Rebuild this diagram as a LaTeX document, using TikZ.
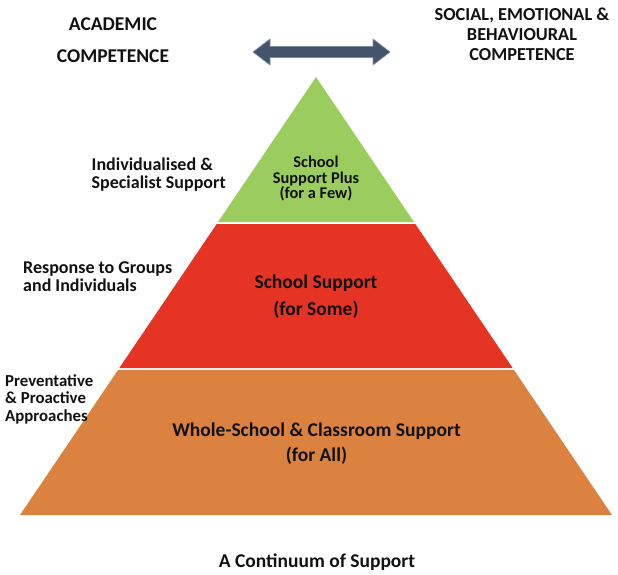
\documentclass[tikz,border=0pt]{standalone}
\usepackage{fontspec}
\setmainfont{Carlito}
\definecolor{tgreen}{HTML}{9BCD5E}
\definecolor{tred}{HTML}{E53324}
\definecolor{torange}{HTML}{DB8240}
\definecolor{tarrow}{HTML}{44546A}
\definecolor{tarrowedge}{HTML}{7D8CA3}
\definecolor{ttext}{HTML}{111111}
\begin{document}
\begin{tikzpicture}[x=1pt,y=-1pt,
  lbl/.style={inner sep=0pt, text=ttext, font=\bfseries\fontsize{#1}{#1}\selectfont},
  lbl/.default=18,
  tier/.style={fill=#1, draw=none}]
\useasboundingbox (0,0) rectangle (618,574);
% pyramid tiers
\fill[tier=tgreen] (316,77) -- (414,222) -- (218,222) -- cycle;
\fill[tier=tred] (216.7,224) -- (415.3,224) -- (512.7,368) -- (119.3,368) -- cycle;
\fill[tier=torange] (118,370) -- (514,370) -- (612,515) -- (20,515) -- cycle;
% double arrow
\filldraw[fill=tarrow, draw=tarrowedge, line width=0.6pt]
  (253,52) -- (270,39) -- (270,46.5) -- (373,46.5) -- (373,39) -- (390,52)
  -- (373,65) -- (373,57.5) -- (270,57.5) -- (270,65) -- cycle;
% top labels
\node[lbl=19.5, anchor=base] (ac1) at (113,30.5) {ACADEMIC};
\node[lbl=19.5, anchor=base] (ac2) at (113,62.5) {COMPETENCE};
\node[lbl=18.3, anchor=base] (se1) at (522,20.5) {SOCIAL, EMOTIONAL \&};
\node[lbl=18.3, anchor=base] (se2) at (522,40.5) {BEHAVIOURAL};
\node[lbl=18.3, anchor=base] (se3) at (522,60.5) {COMPETENCE};
% side labels
\node[lbl=18, anchor=base west] (is1) at (91.5,170.5) {Individualised \&};
\node[lbl=18, anchor=base west] (is2) at (91.5,188.5) {Specialist Support};
\node[lbl=18, anchor=base west] (rg1) at (23,273.5) {Response to Groups};
\node[lbl=18, anchor=base west] (rg2) at (23,291.5) {and Individuals};
\node[lbl=16.8, anchor=base west] (pp1) at (5,386) {Preventative};
\node[lbl=16.8, anchor=base west] (pp2) at (5,403.5) {\& Proactive};
\node[lbl=16.8, anchor=base west] (pp3) at (5,421) {Approaches};
% tier labels
\node[lbl=16.4, anchor=base] (sp1) at (316,167) {School};
\node[lbl=16.4, anchor=base] (sp2) at (316,183) {Support Plus};
\node[lbl=16.4, anchor=base] (sp3) at (316,198) {(for a Few)};
\node[lbl=19.5, anchor=base] (ss1) at (316,288.5) {School Support};
\node[lbl=19.5, anchor=base] (ss2) at (316,315.5) {(for Some)};
\node[lbl=19.5, anchor=base] (ws1) at (316.5,436.5) {Whole-School \& Classroom Support};
\node[lbl=19.5, anchor=base] (ws2) at (316.5,461.5) {(for All)};
% caption
\node[lbl=19.5, anchor=base] (cap) at (317,567.5) {A Continuum of Support};
\end{tikzpicture}
\end{document}
